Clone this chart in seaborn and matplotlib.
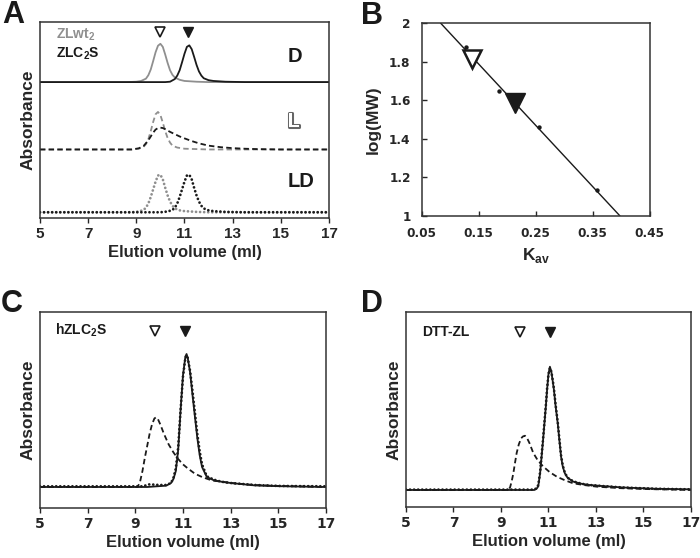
import numpy as np
import matplotlib
matplotlib.use("Agg")
import matplotlib.pyplot as plt
import matplotlib.patheffects as pe
import seaborn as sns

sns.set_style("ticks")
plt.rcParams["font.family"] = ["Liberation Sans", "DejaVu Sans"]
plt.rcParams["font.weight"] = "bold"
plt.rcParams["mathtext.fontset"] = "custom"
plt.rcParams["mathtext.bf"] = "Liberation Sans:bold"
plt.rcParams["mathtext.rm"] = "Liberation Sans:bold"
plt.rcParams["axes.edgecolor"] = "#333333"
plt.rcParams["axes.linewidth"] = 1.1

GRAY = "#8f8f8f"
BLACK = "#1a1a1a"

# ---- panel A traces (height 1 = ZLwt2 peak in D) ----
a_d_wt_x = [5, 8.6, 9.0, 9.2, 9.4, 9.5, 9.6, 9.7, 9.8, 9.9, 10.0, 10.1, 10.2, 10.3, 10.4, 10.5, 10.6, 10.8, 11.0, 11.5, 12.0, 17]
a_d_wt_y = [0, 0.0, 0.01, 0.03, 0.09, 0.18, 0.33, 0.55, 0.78, 0.95, 1.0, 0.92, 0.72, 0.50, 0.31, 0.19, 0.12, 0.06, 0.03, 0.01, 0, 0]
a_d_c2s_x = [5, 10.2, 10.4, 10.6, 10.7, 10.8, 10.9, 11.0, 11.1, 11.2, 11.3, 11.4, 11.5, 11.6, 11.7, 11.8, 12.0, 12.2, 12.7, 13.5, 17]
a_d_c2s_y = [0, 0.0, 0.01, 0.08, 0.17, 0.31, 0.52, 0.74, 0.92, 0.96, 0.86, 0.66, 0.45, 0.28, 0.17, 0.10, 0.05, 0.03, 0.01, 0, 0]
a_l_wt_x = [5, 8.8, 9.1, 9.3, 9.4, 9.5, 9.6, 9.7, 9.8, 9.9, 10.0, 10.1, 10.2, 10.3, 10.4, 10.5, 10.7, 11.0, 11.5, 12.0, 17]
a_l_wt_y = [0, 0.0, 0.02, 0.07, 0.14, 0.27, 0.48, 0.72, 0.92, 0.98, 0.90, 0.70, 0.48, 0.30, 0.18, 0.10, 0.05, 0.02, 0.01, 0, 0]
a_l_c2s_x = [5, 8.8, 9.1, 9.3, 9.5, 9.6, 9.7, 9.8, 9.9, 10.0, 10.1, 10.2, 10.4, 10.6, 10.8, 11.0, 11.3, 11.6, 12.0, 12.5, 13.0, 13.5, 14.0, 15.0, 17]
a_l_c2s_y = [0, 0.0, 0.03, 0.09, 0.24, 0.34, 0.44, 0.52, 0.56, 0.57, 0.56, 0.53, 0.46, 0.40, 0.34, 0.29, 0.22, 0.16, 0.10, 0.06, 0.035, 0.02, 0.01, 0, 0]
a_ld_wt_x = [5, 8.8, 9.1, 9.3, 9.4, 9.5, 9.6, 9.7, 9.8, 9.9, 10.0, 10.1, 10.2, 10.3, 10.4, 10.5, 10.6, 10.8, 11.0, 11.5, 12.0, 17]
a_ld_wt_y = [0, 0.0, 0.02, 0.06, 0.12, 0.23, 0.40, 0.60, 0.80, 0.96, 0.98, 0.86, 0.64, 0.44, 0.28, 0.17, 0.10, 0.05, 0.03, 0.01, 0, 0]
a_ld_c2s_x = [5, 10.0, 10.3, 10.5, 10.6, 10.7, 10.8, 10.9, 11.0, 11.1, 11.2, 11.3, 11.4, 11.5, 11.6, 11.7, 11.8, 12.0, 12.2, 12.7, 13.5, 17]
a_ld_c2s_y = [0, 0.0, 0.02, 0.06, 0.12, 0.23, 0.40, 0.60, 0.80, 0.96, 0.98, 0.86, 0.64, 0.44, 0.28, 0.17, 0.10, 0.05, 0.03, 0.01, 0, 0]
a_marks = [9.98, 11.16]

# ---- panel B: calibration ----
std_kav = [0.128, 0.185, 0.256, 0.358]
std_logmw = [1.876, 1.647, 1.462, 1.136]
fit_kav = [0.083, 0.398]
fit_logmw = [2.0, 1.0]
wt_kav, wt_logmw = 0.139, 1.816
c2s_kav, c2s_logmw = 0.213, 1.585

# ---- panel C: hZLC2S (height 1 = main peak) ----
c_dash_x = [5, 9.1, 9.2, 9.3, 9.4, 9.5, 9.6, 9.7, 9.8, 9.87, 9.95, 10.05, 10.2, 10.4, 10.6, 10.8, 11.0, 11.2, 11.5, 11.8, 12.2, 12.6, 13.0, 14.0, 15.0, 17]
c_dash_y = [0, 0.0, 0.04, 0.12, 0.22, 0.31, 0.40, 0.47, 0.515, 0.524, 0.51, 0.47, 0.40, 0.32, 0.26, 0.21, 0.17, 0.14, 0.10, 0.075, 0.05, 0.04, 0.03, 0.015, 0.008, 0]
c_solid_x = [5, 9.5, 10.3, 10.5, 10.6, 10.7, 10.8, 10.9, 11.0, 11.1, 11.15, 11.2, 11.3, 11.4, 11.5, 11.6, 11.7, 11.8, 12.0, 12.3, 12.6, 13.0, 14.0, 15.0, 17]
c_solid_y = [0, 0, 0.01, 0.03, 0.06, 0.12, 0.28, 0.58, 0.84, 0.98, 1.0, 0.97, 0.86, 0.69, 0.53, 0.37, 0.24, 0.15, 0.075, 0.05, 0.04, 0.03, 0.012, 0.006, 0]
c_dot_x = [5, 9.3, 9.6, 10.0, 10.3, 10.5, 10.6, 10.7, 10.8, 10.9, 11.0, 11.1, 11.15, 11.2, 11.3, 11.4, 11.5, 11.6, 11.7, 11.8, 12.0, 12.3, 12.6, 13.0, 14.0, 15.0, 17]
c_dot_y = [0.005, 0.005, 0.02, 0.015, 0.015, 0.03, 0.07, 0.14, 0.30, 0.58, 0.83, 0.97, 0.99, 0.97, 0.87, 0.72, 0.56, 0.40, 0.27, 0.17, 0.08, 0.055, 0.04, 0.03, 0.015, 0.008, 0.005]
c_marks = [9.83, 11.1]

# ---- panel D: DTT-ZL ----
d_dash_x = [5, 9.3, 9.38, 9.45, 9.52, 9.59, 9.66, 9.75, 9.85, 9.93, 10.01, 10.1, 10.2, 10.36, 10.55, 10.78, 11.05, 11.35, 11.7, 12.04, 12.5, 13.03, 14.0, 15.0, 17]
d_dash_y = [0, 0, 0.02, 0.07, 0.135, 0.22, 0.30, 0.37, 0.42, 0.435, 0.44, 0.42, 0.38, 0.30, 0.24, 0.19, 0.145, 0.108, 0.078, 0.054, 0.04, 0.027, 0.015, 0.008, 0]
d_solid_x = [5, 10.4, 10.5, 10.57, 10.65, 10.71, 10.77, 10.83, 10.89, 10.94, 11.0, 11.06, 11.12, 11.18, 11.23, 11.3, 11.39, 11.46, 11.53, 11.6, 11.69, 11.8, 12.04, 12.4, 12.75, 13.4, 14.15, 15.5, 17]
d_solid_y = [0, 0, 0.01, 0.03, 0.14, 0.27, 0.40, 0.54, 0.68, 0.81, 0.94, 1.0, 0.96, 0.88, 0.81, 0.68, 0.54, 0.40, 0.27, 0.19, 0.135, 0.10, 0.068, 0.05, 0.04, 0.03, 0.02, 0.01, 0.005]
d_dot_y = [0.003, 0.003, 0.015, 0.04, 0.15, 0.28, 0.41, 0.55, 0.69, 0.82, 0.94, 0.99, 0.96, 0.89, 0.82, 0.69, 0.55, 0.41, 0.28, 0.20, 0.14, 0.10, 0.07, 0.05, 0.04, 0.03, 0.02, 0.01, 0.005]
d_marks = [9.8, 11.06]

DASH = dict(linestyle=(0, (3.0, 1.8)), linewidth=1.3)
DOT = dict(linestyle=(0, (0.01, 1.45)), linewidth=2.0, dash_capstyle="round")
SOLID = dict(linestyle="-", linewidth=1.3)


def trace(ax, x, y, color, style, offset=0.0):
    sns.lineplot(x=x, y=np.asarray(y) + offset, ax=ax, color=color,
                 estimator=None, sort=False, **style)


def chrom_axes(ax, ylim):
    ax.set_xlim(5, 17)
    ax.set_ylim(*ylim)
    ax.set_xticks(range(5, 18, 2))
    ax.set_yticks([])
    for s in ax.spines.values():
        s.set_visible(True)
    ax.tick_params(axis="x", direction="out", length=3.5, width=1, pad=3)
    ax.set_xlabel("Elution volume (ml)", fontsize=12, fontweight="bold", labelpad=3)
    ax.set_ylabel("Absorbance", fontsize=12.5, fontweight="bold", labelpad=3)


def markers(ax, xs, y):
    ax.plot([xs[0]], [y], marker="v", ms=6.5, mfc="white", mec=BLACK, mew=1.2, ls="none")
    ax.plot([xs[1]], [y], marker="v", ms=6.5, mfc=BLACK, mec=BLACK, ls="none")


fig = plt.figure(figsize=(7, 5.58), dpi=100)

# ---------------- A ----------------
axA = fig.add_axes([0.0571, 0.6093, 0.4129, 0.3513])
off_d, off_l, off_ld = 3.55, 1.79, 0.15
trace(axA, a_d_wt_x, a_d_wt_y, GRAY, SOLID, off_d)
trace(axA, a_d_c2s_x, a_d_c2s_y, BLACK, SOLID, off_d)
trace(axA, a_l_wt_x, a_l_wt_y, GRAY, DASH, off_l)
trace(axA, a_l_c2s_x, a_l_c2s_y, BLACK, DASH, off_l)
trace(axA, a_ld_wt_x, a_ld_wt_y, GRAY, DOT, off_ld)
trace(axA, a_ld_c2s_x, a_ld_c2s_y, BLACK, DOT, off_ld)
chrom_axes(axA, (0, 5.12))
markers(axA, a_marks, 4.86)
for lab in axA.get_xticklabels():
    lab.set_fontsize(11)
    lab.set_fontweight("bold")
axA.text(0.055, 0.934, r"ZLwt$_\mathbf{2}$", transform=axA.transAxes, color=GRAY,
         fontsize=10, fontweight="bold", va="center")
axA.text(0.055, 0.84, r"ZLC$_\mathbf{2}$S", transform=axA.transAxes, color=BLACK,
         fontsize=10, fontweight="bold", va="center")
axA.text(0.882, 0.823, "D", transform=axA.transAxes, fontsize=14.5, fontweight="bold",
         ha="center", va="center", color=BLACK)
axA.text(0.877, 0.491, "L", transform=axA.transAxes, fontsize=14.5, fontweight="bold",
         ha="center", va="center", color="white",
         path_effects=[pe.Stroke(linewidth=2.2, foreground="#666666"), pe.Normal()])
axA.text(0.905, 0.185, "LD", transform=axA.transAxes, fontsize=14.5, fontweight="bold",
         ha="center", va="center", color=BLACK)

# ---------------- B ----------------
axB = fig.add_axes([0.6024, 0.6129, 0.3257, 0.3459])
sns.lineplot(x=fit_kav, y=fit_logmw, ax=axB, color=BLACK, linewidth=1.0, estimator=None, sort=False)
sns.scatterplot(x=std_kav, y=std_logmw, ax=axB, color=BLACK, s=10, edgecolor=BLACK, linewidth=0)
axB.plot([wt_kav], [wt_logmw], marker="v", ms=13, mfc="white", mec=BLACK, mew=1.8, ls="none")
axB.plot([c2s_kav], [c2s_logmw], marker="v", ms=14, mfc=BLACK, mec=BLACK, ls="none")
axB.set_xlim(0.05, 0.45)
axB.set_ylim(1, 2)
axB.set_xticks([0.05, 0.15, 0.25, 0.35, 0.45])
axB.set_xticklabels(["0.05", "0.15", "0.25", "0.35", "0.45"])
axB.set_yticks([1, 1.2, 1.4, 1.6, 1.8, 2])
axB.set_yticklabels(["1", "1.2", "1.4", "1.6", "1.8", "2"])
axB.tick_params(direction="in", length=3.5, width=1, pad=8)
for lab in axB.get_xticklabels() + axB.get_yticklabels():
    lab.set_fontfamily("DejaVu Sans")
    lab.set_fontsize(8.7)
    lab.set_fontweight("bold")
axB.set_xlabel(r"K$_\mathbf{av}$", fontsize=12.5, fontweight="bold", labelpad=4)
axB.set_ylabel("log(MW)", fontsize=12.5, fontweight="bold", labelpad=6)

# ---------------- C ----------------
axC = fig.add_axes([0.0571, 0.0896, 0.4086, 0.3513])
trace(axC, c_dash_x, c_dash_y, BLACK, DASH)
trace(axC, c_solid_x, c_solid_y, BLACK, SOLID)
trace(axC, c_dot_x, c_dot_y, BLACK, DOT)
chrom_axes(axC, (-0.158, 1.316))
markers(axC, c_marks, 1.175)
axC.text(5.63, 1.175, r"hZLC$_\mathbf{2}$S", fontsize=10, fontweight="bold", va="center", color=BLACK)

# ---------------- D ----------------
axD = fig.add_axes([0.58, 0.0914, 0.4071, 0.3495])
trace(axD, d_dash_x, d_dash_y, BLACK, DASH)
trace(axD, d_solid_x, d_solid_y, BLACK, SOLID)
trace(axD, d_solid_x, d_dot_y, BLACK, DOT)
chrom_axes(axD, (-0.138, 1.444))
markers(axD, d_marks, 1.279)
axD.text(5.70, 1.279, "DTT-ZL", fontsize=10, fontweight="bold", va="center", color=BLACK)

for ax in (axC, axD):
    for lab in ax.get_xticklabels():
        lab.set_fontfamily("DejaVu Sans")
        lab.set_fontsize(10)
        lab.set_fontweight("bold")

# panel letters
for letter, (px, py) in {"A": (13, 15), "B": (372, 16), "C": (12, 304), "D": (372, 304)}.items():
    fig.text(px / 700, 1 - py / 558, letter, fontsize=22, fontweight="bold",
             ha="center", va="center", color=BLACK)

fig.savefig("out.png", dpi=100)
